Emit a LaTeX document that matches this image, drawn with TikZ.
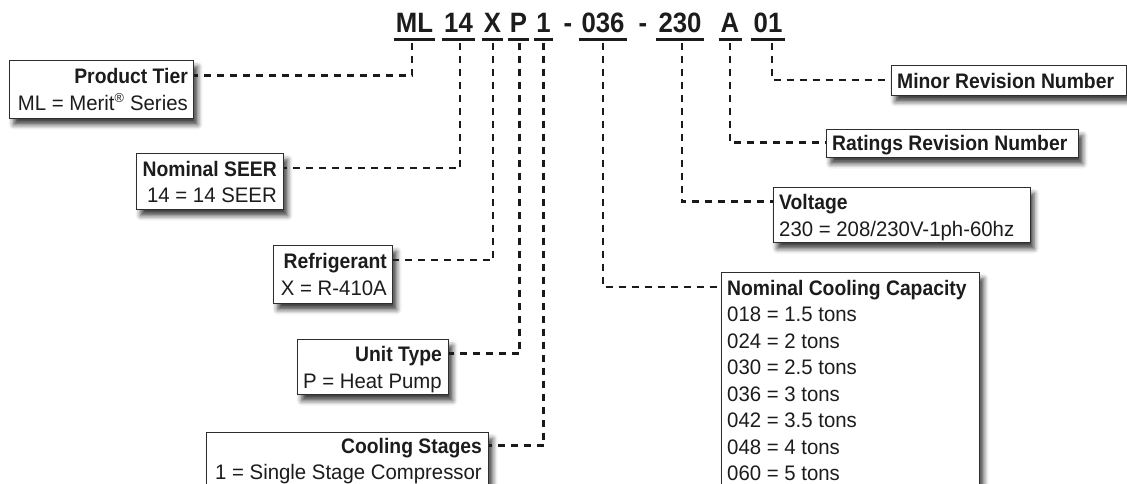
\documentclass[tikz,border=0pt]{standalone}
\usepackage{fontspec}
\setmainfont{Liberation Sans}[FakeStretch=0.97,BoldFeatures={FakeStretch=0.92}]
\usetikzlibrary{shadows.blur}
\definecolor{txt}{HTML}{1C1C1C}
\definecolor{boxc}{HTML}{2E2E2E}
\definecolor{dashc}{HTML}{1A1A1A}
\begin{document}
\begin{tikzpicture}[x=1pt,y=-1pt,
  box/.style={draw=boxc,line width=1.3pt,fill=white,inner sep=0pt,anchor=north west,
    blur shadow={shadow xshift=4pt,shadow yshift=-6pt,shadow blur radius=5pt,shadow opacity=75}},
  head/.style={font=\bfseries\fontsize{21}{25}\selectfont,inner sep=0pt,text height=16pt,text depth=0pt,text=txt},
  body/.style={font=\fontsize{21}{25}\selectfont,inner sep=0pt,text=txt},
  code/.style={font=\bfseries\fontsize{28}{32}\selectfont,inner xsep=2pt,inner ysep=0pt,anchor=base,text=txt},
  conn/.style={draw=dashc,line width=2.3pt,dash pattern=on 7pt off 6pt},
  ul/.style={draw=txt,line width=2.2pt}]
\useasboundingbox (0,0) rectangle (1127,483);

% model number
\node[code] (cML) at (414.5,32.5) {ML};
\node[code] (c14) at (458.5,32.5) {14};
\node[code] (cX) at (492.5,32.5) {X};
\node[code] (cP) at (518.5,32.5) {P};
\node[code] (c1) at (543.5,32.5) {1};
\node[code] (d1) at (568,32.5) {-};
\node[code] (c036) at (603,32.5) {036};
\node[code] (d2) at (643,32.5) {-};
\node[code] (c230) at (680,32.5) {230};
\node[code] (cA) at (730,32.5) {A};
\node[code] (c01) at (768,32.5) {01};
\foreach \n in {cML,c14,cX,cP,c1,c036,c230,cA,c01}
  \draw[ul] ([yshift=-7pt]\n.base west) -- ([yshift=-7pt]\n.base east);

% boxes (left)
\node[box,minimum width=184pt,minimum height=58pt] (bPT) at (9,60) {};
\node[head,anchor=base east] (hPT) at (188,83.5) {Product Tier};
\node[body,anchor=base east] (tPT) at (188,110.5) {ML = Merit\textsuperscript{\fontsize{13}{13}\selectfont ®} Series};

\node[box,minimum width=147pt,minimum height=56pt] (bNS) at (136,153) {};
\node[head,anchor=base east] (hNS) at (277,176) {Nominal SEER};
\node[body,anchor=base east] (tNS) at (277,202.5) {14 = 14 SEER};

\node[box,minimum width=119pt,minimum height=58pt] (bRF) at (273,245) {};
\node[head,anchor=base east] (hRF) at (387,268) {Refrigerant};
\node[body,anchor=base east] (tRF) at (387,295) {X = R-410A};

\node[box,minimum width=151pt,minimum height=55pt] (bUT) at (297,339) {};
\node[head,anchor=base east] (hUT) at (442,361.5) {Unit Type};
\node[body,anchor=base east] (tUT) at (442,388) {P = Heat Pump};

\node[box,minimum width=282pt,minimum height=80pt] (bCS) at (206,432) {};
\node[head,anchor=base east] (hCS) at (482,453.5) {Cooling Stages};
\node[body,anchor=base east] (tCS) at (482,479.5) {1 = Single Stage Compressor};

% boxes (right)
\node[box,minimum width=258pt,minimum height=240pt] (bNC) at (721,272) {};
\node[head,anchor=base west] (hNC) at (727,295) {Nominal Cooling Capacity};
\foreach \t [count=\i] in {018 = 1.5 tons,024 = 2 tons,030 = 2.5 tons,036 = 3 tons,042 = 3.5 tons,048 = 4 tons,060 = 5 tons}
  \node[body,anchor=base west] (tNC\i) at (727,295+26.5*\i) {\t};

\node[box,minimum width=257pt,minimum height=55pt] (bV) at (772.5,187) {};
\node[head,anchor=base west] (hV) at (779,209.5) {Voltage};
\node[body,anchor=base west] (tV) at (779,236) {230 = 208/230V-1ph-60hz};

\node[box,minimum width=252pt,minimum height=28pt] (bRR) at (826,129) {};
\node[head,anchor=base west] (hRR) at (832,150.5) {Ratings Revision Number};

\node[box,minimum width=235pt,minimum height=30pt] (bMR) at (890.5,65) {};
\node[head,anchor=base west] (hMR) at (897,88) {Minor Revision Number};

% connectors
\draw[conn] ([xshift=-2.5pt,yshift=-10pt]cML.base) |- (bPT.east |- hPT);
\draw[conn] ([xshift=1.5pt,yshift=-10pt]c14.base) |- (bNS.east |- hNS);
\draw[conn] ([xshift=0.5pt,yshift=-10pt]cX.base) |- (bRF.east |- hRF);
\draw[conn] ([xshift=1pt,yshift=-10pt]cP.base) |- (bUT.east |- hUT);
\draw[conn] ([yshift=-10pt]c1.base) |- (bCS.east |- hCS);
\draw[conn] ([yshift=-10pt]c036.base) |- (bNC.west |- hNC);
\draw[conn] ([xshift=2pt,yshift=-10pt]c230.base) |- (bV.west |- hV);
\draw[conn] ([yshift=-10pt]cA.base) |- (bRR.west |- hRR);
\draw[conn] ([xshift=4pt,yshift=-10pt]c01.base) |- (bMR.west |- hMR);
\end{tikzpicture}
\end{document}
